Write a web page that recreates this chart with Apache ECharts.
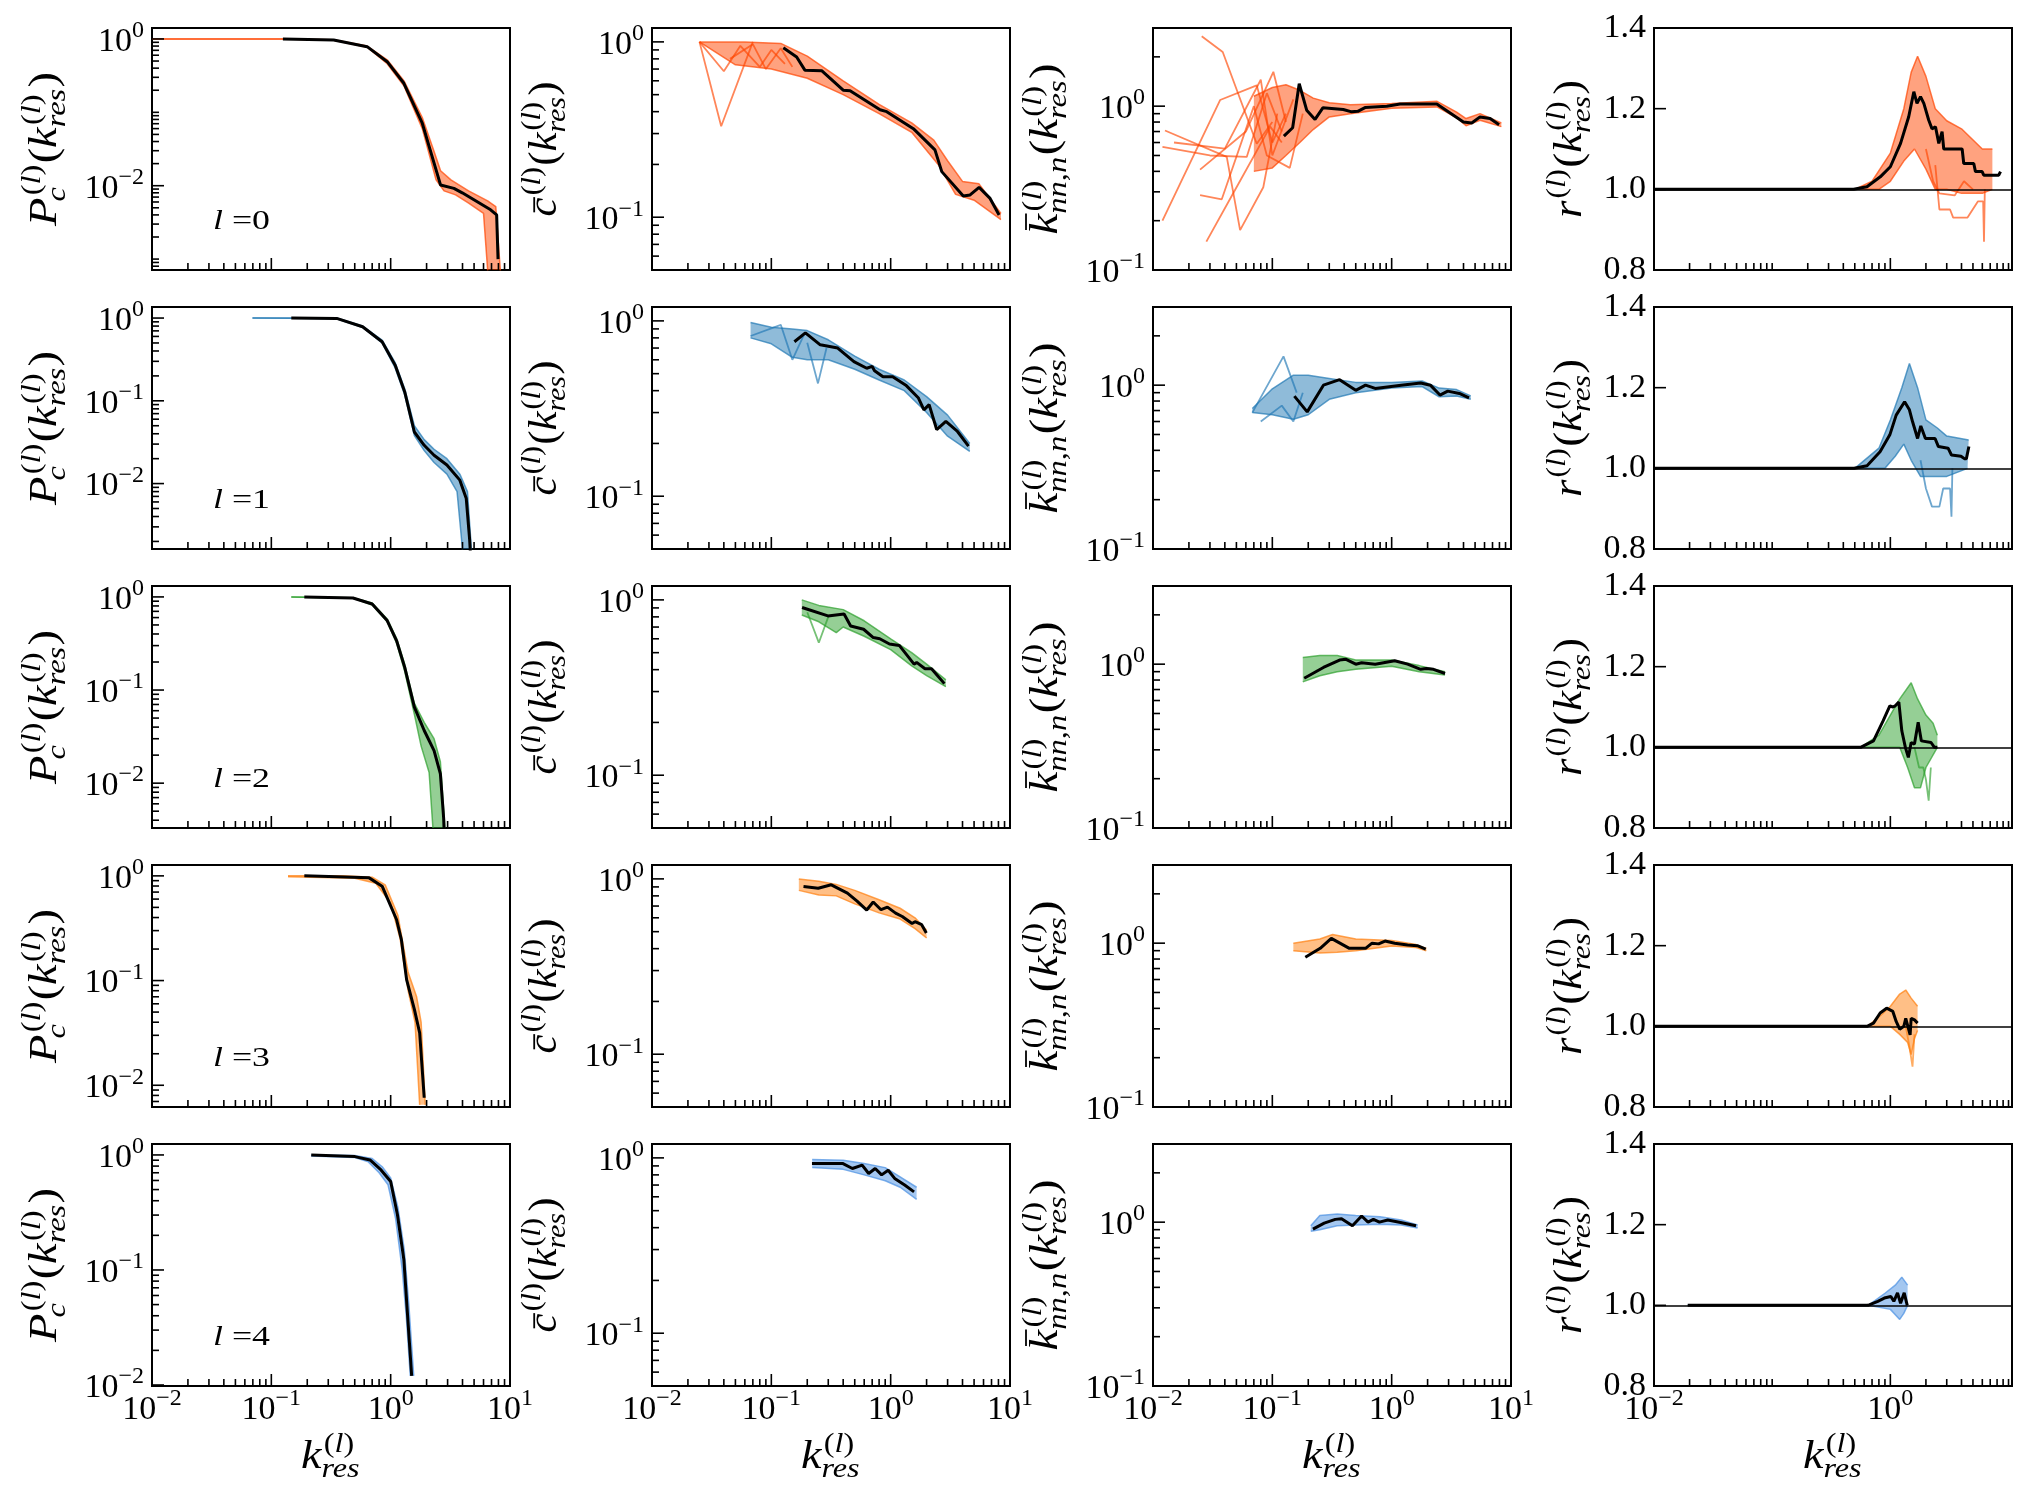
<!DOCTYPE html>
<html>
<head>
<meta charset="utf-8">
<title>k_res by layer</title>
<script src="https://cdn.jsdelivr.net/npm/echarts@6.0.0/dist/echarts.min.js"></script>
<style>
  html, body { margin: 0; padding: 0; background: #fff; }
  #chart { width: 2027px; height: 1500px; }
</style>
</head>
<body>
<div id="chart"></div>
<script>
var FONT = '"Liberation Serif", "Times New Roman", serif';
var rowColors = ['#ff4500', '#1f77b4', '#2ca02c', '#ff7f0e', '#4a90e2'];

/* ---- l = 0 ---- */
var pc0_mean = [[0.125,1],[0.333,0.97],[0.635,0.785],[0.935,0.49],[1.29,0.249],[1.84,0.071],[2.62,0.0102],[3.39,0.0092],[3.98,0.0080],[6.88,0.0047],[7.73,0.0040],[7.94,0.001]];
var pc0_hi = [[0.01,1],[0.125,1],[0.333,0.975],[0.635,0.8],[0.935,0.52],[1.29,0.27],[1.84,0.085],[2.3,0.03],[2.62,0.016],[3.2,0.012],[4.5,0.0085],[6.5,0.0062],[7.6,0.0052],[8.3,0.0007]];
var pc0_lo = [[0.01,1],[0.125,0.995],[0.333,0.96],[0.635,0.77],[0.935,0.46],[1.29,0.23],[1.84,0.06],[2.4,0.012],[2.8,0.0085],[3.5,0.0075],[4.5,0.0058],[6.0,0.0042],[6.5,0.0007]];

var cc0_mean = [[0.126,0.925],[0.163,0.82],[0.191,0.69],[0.264,0.685],[0.40,0.53],[0.457,0.527],[0.815,0.41],[0.927,0.40],[1.55,0.32],[2.35,0.242],[2.68,0.182],[4.06,0.132],[4.63,0.134],[5.51,0.148],[6.81,0.128],[8.1,0.103]];
var cc0_hi = [[0.025,1],[0.06,1],[0.12,0.98],[0.2,0.83],[0.4,0.6],[0.8,0.44],[1.5,0.345],[2.3,0.275],[3.0,0.21],[4.0,0.16],[5.5,0.155],[8.4,0.105]];
var cc0_lo = [[0.025,1],[0.05,0.74],[0.1,0.7],[0.2,0.62],[0.4,0.5],[0.8,0.39],[1.5,0.305],[2.5,0.2],[3.5,0.135],[5.0,0.125],[8.4,0.097]];
var cc0_s1 = [[0.025,1],[0.038,0.33],[0.07,1]];
var cc0_s2 = [[0.025,1],[0.04,0.68],[0.055,0.95],[0.08,0.72],[0.1,0.9],[0.13,0.75]];
var cc0_s3 = [[0.045,0.8],[0.07,0.97],[0.09,0.7],[0.12,0.92],[0.15,0.72]];

var kn0_mean = [[0.125,0.656],[0.148,0.738],[0.168,1.37],[0.194,0.945],[0.228,0.83],[0.265,0.977],[0.393,0.955],[0.462,0.923],[0.52,0.93],[0.598,0.98],[0.91,1.0],[1.175,1.03],[2.39,1.03],[3.99,0.80],[4.69,0.79],[5.5,0.86],[6.68,0.84],[7.95,0.77]];
var kn0_hi = [[0.07,1.15],[0.1,1.3],[0.13,1.35],[0.17,1.25],[0.22,1.12],[0.3,1.05],[0.45,1.02],[1.0,1.04],[2.4,1.07],[3.5,0.92],[4.2,0.84],[5.5,0.9],[8.3,0.79]];
var kn0_lo = [[0.07,0.4],[0.1,0.42],[0.13,0.5],[0.17,0.6],[0.22,0.72],[0.3,0.86],[0.45,0.9],[1.0,0.97],[2.4,0.99],[3.5,0.85],[4.2,0.76],[5.5,0.82],[8.3,0.75]];
var kn0_s1 = [[0.0256,2.67],[0.0384,2.14],[0.074,0.59],[0.1,0.8]];
var kn0_s2 = [[0.012,0.2],[0.0365,1.09],[0.074,1.34],[0.1,0.6],[0.13,0.9]];
var kn0_s3 = [[0.012,0.565],[0.03,0.5],[0.061,0.49],[0.09,1.2],[0.12,0.7]];
var kn0_s4 = [[0.0126,0.71],[0.0415,0.49],[0.0537,0.175],[0.084,0.32],[0.11,0.9]];
var kn0_s5 = [[0.0248,0.41],[0.06,0.7],[0.102,1.62],[0.13,0.8]];
var kn0_s6 = [[0.028,0.149],[0.047,0.294],[0.096,0.75],[0.12,0.6]];
var kn0_s7 = [[0.0248,0.286],[0.0377,0.27],[0.07,1.0],[0.09,0.5],[0.14,0.42],[0.18,0.9]];
var kn0_s8 = [[0.015,0.6],[0.04,0.55],[0.08,1.45],[0.1,0.5],[0.15,1.1]];

var r0_mean = [[0.01,1],[0.489,1.0],[0.634,1.0066],[0.822,1.031],[1.0,1.056],[1.22,1.114],[1.43,1.18],[1.58,1.242],[1.68,1.213],[1.80,1.23],[1.92,1.213],[2.11,1.172],[2.25,1.15],[2.41,1.155],[2.57,1.114],[2.74,1.143],[2.83,1.10],[4.05,1.10],[4.18,1.064],[5.08,1.064],[5.25,1.044],[5.98,1.044],[6.17,1.035],[8.27,1.035],[8.55,1.044]];
var r0_hi = [[0.01,1],[0.5,1.0],[0.7,1.02],[1.0,1.09],[1.3,1.2],[1.5,1.29],[1.7,1.33],[2.0,1.28],[2.4,1.2],[3,1.17],[4,1.15],[6,1.1],[7.3,1.1]];
var r0_lo = [[0.01,1],[0.8,1.0],[1.0,1.02],[1.3,1.07],[1.6,1.1],[2.0,1.05],[2.4,1.0],[3,1.0],[4,0.99],[6,0.99],[7.3,1.0]];
var r0_s1 = [[2.4,1.06],[2.6,0.95],[3.2,0.95],[3.4,0.93],[4.5,0.93],[5.5,0.97],[6.1,0.97],[6.2,0.87],[6.3,1.0]];
var r0_s2 = [[2.0,1.1],[2.3,1.02],[2.6,0.99],[3.5,0.985],[4.2,1.02],[5,1.0]];

/* ---- l = 1 ---- */
var pc1_mean = [[0.147,1],[0.353,0.99],[0.582,0.785],[0.848,0.518],[1.09,0.27],[1.31,0.129],[1.58,0.042],[1.91,0.029],[2.31,0.022],[2.96,0.0168],[3.8,0.011],[4.3,0.0066],[4.59,0.0021],[4.65,0.0015]];
var pc1_hi = [[0.0695,1],[0.147,1],[0.353,1.0],[0.582,0.8],[0.848,0.54],[1.09,0.29],[1.31,0.14],[1.58,0.05],[1.91,0.034],[2.31,0.026],[2.96,0.02],[3.8,0.013],[4.4,0.008],[4.75,0.0016]];
var pc1_lo = [[0.0695,1],[0.147,0.995],[0.353,0.98],[0.582,0.77],[0.848,0.5],[1.09,0.25],[1.31,0.118],[1.58,0.038],[1.91,0.025],[2.31,0.018],[2.96,0.013],[3.6,0.008],[4.0,0.0016]];

var cc1_mean = [[0.156,0.76],[0.193,0.855],[0.257,0.73],[0.36,0.70],[0.492,0.586],[0.63,0.537],[0.70,0.55],[0.733,0.52],[0.863,0.48],[1.04,0.48],[1.34,0.43],[1.71,0.363],[1.9,0.311],[2.1,0.333],[2.43,0.24],[2.9,0.267],[3.63,0.234],[4.49,0.193]];
var cc1_hi = [[0.067,0.98],[0.1,0.92],[0.15,0.9],[0.2,0.88],[0.3,0.78],[0.5,0.63],[0.8,0.53],[1.3,0.46],[2,0.37],[3,0.29],[4.6,0.2]];
var cc1_lo = [[0.067,0.8],[0.1,0.74],[0.15,0.62],[0.2,0.6],[0.3,0.6],[0.5,0.53],[0.8,0.46],[1.3,0.4],[2,0.3],[3,0.22],[4.6,0.18]];
var cc1_s1 = [[0.2,0.75],[0.246,0.44],[0.29,0.7]];
var cc1_s2 = [[0.067,0.82],[0.12,0.95],[0.15,0.6],[0.19,0.85]];

var kn1_mean = [[0.153,0.857],[0.196,0.687],[0.268,1.0],[0.366,1.08],[0.5,0.93],[0.604,1.0],[0.728,0.955],[1.2,1.0],[1.75,1.03],[2.11,1.0],[2.54,0.87],[2.95,0.92],[3.69,0.89],[4.45,0.837]];
var kn1_hi = [[0.068,0.72],[0.1,0.95],[0.15,1.15],[0.2,1.15],[0.3,1.1],[0.5,1.04],[1,1.04],[1.8,1.06],[2.5,0.96],[3.5,0.94],[4.6,0.86]];
var kn1_lo = [[0.068,0.68],[0.1,0.66],[0.15,0.62],[0.2,0.66],[0.3,0.82],[0.5,0.9],[1,0.96],[1.8,0.98],[2.5,0.85],[3.5,0.86],[4.6,0.82]];
var kn1_s1 = [[0.068,0.68],[0.124,1.5],[0.16,0.9]];
var kn1_s2 = [[0.08,0.6],[0.12,0.75],[0.15,0.6],[0.18,0.9]];

var r1_mean = [[0.01,1],[0.494,1.0],[0.635,1.0066],[0.818,1.041],[0.99,1.083],[1.12,1.132],[1.32,1.165],[1.45,1.145],[1.54,1.116],[1.70,1.074],[1.81,1.105],[1.98,1.074],[2.39,1.074],[2.55,1.054],[3.08,1.05],[3.29,1.033],[3.96,1.03],[4.23,1.024],[4.4,1.024],[4.62,1.054]];
var r1_hi = [[0.01,1],[0.5,1.0],[0.8,1.05],[1.0,1.12],[1.25,1.2],[1.45,1.26],[1.7,1.2],[2.0,1.12],[2.5,1.1],[3,1.08],[4.6,1.07]];
var r1_lo = [[0.01,1],[0.9,1.0],[1.1,1.03],[1.3,1.06],[1.5,1.02],[1.8,0.98],[2.3,0.98],[3,0.98],[4.5,1.0]];
var r1_s1 = [[1.8,1.02],[2.0,0.95],[2.25,0.905],[2.6,0.905],[2.8,0.95],[3.2,0.95],[3.29,0.88],[3.35,1.0]];

/* ---- l = 2 ---- */
var pc2_mean = [[0.189,1],[0.483,0.975],[0.70,0.84],[0.935,0.557],[1.12,0.34],[1.31,0.176],[1.58,0.0656],[1.91,0.0368],[2.31,0.0224],[2.61,0.0126],[2.78,0.0042],[2.8,0.0033]];
var pc2_hi = [[0.147,1],[0.483,0.98],[0.70,0.86],[0.935,0.58],[1.12,0.36],[1.31,0.19],[1.58,0.072],[1.91,0.045],[2.31,0.03],[2.61,0.017],[2.85,0.0033]];
var pc2_lo = [[0.147,1],[0.483,0.97],[0.70,0.82],[0.935,0.54],[1.12,0.32],[1.31,0.16],[1.58,0.055],[1.8,0.025],[2.1,0.013],[2.26,0.0033]];

var cc2_mean = [[0.181,0.905],[0.298,0.81],[0.407,0.83],[0.462,0.71],[0.593,0.68],[0.715,0.61],[0.81,0.6],[0.977,0.56],[1.18,0.55],[1.57,0.43],[1.65,0.44],[1.94,0.405],[2.2,0.405],[2.82,0.333]];
var cc2_hi = [[0.18,1.0],[0.25,0.93],[0.4,0.88],[0.6,0.76],[1,0.6],[1.5,0.5],[2,0.43],[2.9,0.35]];
var cc2_lo = [[0.18,0.82],[0.25,0.75],[0.35,0.65],[0.4,0.7],[0.6,0.62],[1,0.52],[1.5,0.42],[2,0.37],[2.9,0.32]];
var cc2_s1 = [[0.2,0.85],[0.25,0.57],[0.3,0.8]];

var kn2_mean = [[0.185,0.82],[0.268,0.955],[0.366,1.06],[0.415,1.07],[0.5,1.0],[0.56,1.02],[0.728,1.0],[1.06,1.05],[1.36,1.0],[1.75,0.93],[1.95,0.94],[2.24,0.93],[2.8,0.877]];
var kn2_hi = [[0.18,1.1],[0.25,1.13],[0.35,1.13],[0.5,1.06],[1,1.06],[1.7,0.98],[2.8,0.9]];
var kn2_lo = [[0.18,0.78],[0.25,0.85],[0.35,0.9],[0.5,0.93],[1,0.97],[1.7,0.9],[2.8,0.86]];

var r2_mean = [[0.01,1],[0.56,1.0],[0.72,1.016],[0.87,1.066],[0.99,1.103],[1.05,1.1],[1.1,1.103],[1.18,1.112],[1.25,1.041],[1.34,1.0],[1.42,0.975],[1.5,1.012],[1.6,1.008],[1.72,1.062],[1.83,1.016],[1.9,1.012],[2.21,1.012],[2.36,1.0],[2.5,1.0]];
var r2_hi = [[0.01,1],[0.56,1.0],[0.8,1.03],[1.0,1.08],[1.2,1.12],[1.5,1.16],[1.7,1.12],[2.0,1.08],[2.3,1.06],[2.5,1.03]];
var r2_lo = [[0.01,1],[1.0,1.0],[1.2,1.0],[1.4,0.95],[1.6,0.9],[1.8,0.9],[2.0,0.95],[2.5,1.0]];
var r2_s1 = [[1.6,1.0],[1.75,0.95],[1.9,0.95],[2.0,0.92],[2.11,0.868],[2.2,0.95]];

/* ---- l = 3 ---- */
var pc3_mean = [[0.189,1],[0.66,0.957],[0.848,0.797],[1.12,0.383],[1.23,0.246],[1.36,0.102],[1.58,0.053],[1.75,0.0316],[1.91,0.0076]];
var pc3_hi = [[0.138,1],[0.4,1.0],[0.7,0.97],[0.9,0.82],[1.15,0.42],[1.4,0.12],[1.65,0.07],[1.8,0.04],[1.95,0.0065]];
var pc3_lo = [[0.138,0.98],[0.5,0.95],[0.75,0.85],[1.0,0.55],[1.2,0.25],[1.4,0.08],[1.6,0.04],[1.75,0.0065]];

var cc3_mean = [[0.186,0.905],[0.247,0.885],[0.318,0.925],[0.434,0.83],[0.523,0.747],[0.63,0.664],[0.714,0.738],[0.83,0.667],[0.94,0.69],[1.1,0.638],[1.25,0.61],[1.51,0.556],[1.6,0.57],[1.82,0.548],[1.99,0.492]];
var cc3_hi = [[0.17,1.0],[0.25,0.97],[0.35,0.93],[0.5,0.86],[0.8,0.76],[1.2,0.68],[1.6,0.6],[2.0,0.51]];
var cc3_lo = [[0.17,0.86],[0.25,0.81],[0.35,0.8],[0.5,0.72],[0.8,0.64],[1.2,0.59],[1.6,0.52],[2.0,0.46]];

var kn3_mean = [[0.189,0.82],[0.252,0.93],[0.312,1.07],[0.442,0.93],[0.604,0.93],[0.685,1.0],[0.777,0.99],[0.88,1.03],[1.06,1.0],[1.36,0.976],[1.64,0.965],[1.93,0.92]];
var kn3_hi = [[0.15,1.0],[0.25,1.06],[0.32,1.13],[0.5,1.06],[1,1.04],[1.6,0.98],[1.95,0.93]];
var kn3_lo = [[0.15,0.9],[0.25,0.87],[0.35,0.88],[0.5,0.9],[1,0.96],[1.6,0.94],[1.95,0.9]];

var r3_mean = [[0.01,1],[0.635,1.0],[0.72,1.008],[0.82,1.033],[0.93,1.045],[1.05,1.037],[1.12,1.012],[1.2,0.993],[1.3,1.0],[1.35,1.02],[1.47,0.979],[1.5,1.02],[1.6,1.016],[1.7,1.008]];
var r3_hi = [[0.01,1],[0.64,1.0],[0.85,1.03],[1.0,1.05],[1.2,1.08],[1.35,1.09],[1.5,1.07],[1.7,1.05]];
var r3_lo = [[0.01,1],[1.0,1.0],[1.2,0.98],[1.4,0.96],[1.5,0.93],[1.6,0.97],[1.7,0.99]];
var r3_s1 = [[1.35,1.0],[1.45,0.95],[1.54,0.9],[1.6,0.98]];

/* ---- l = 4 ---- */
var pc4_mean = [[0.216,1],[0.502,0.967],[0.671,0.905],[0.83,0.741],[1.0,0.587],[1.14,0.302],[1.29,0.123],[1.37,0.048],[1.5,0.012]];
var pc4_hi = [[0.216,1.0],[0.5,0.99],[0.7,0.93],[0.85,0.79],[1.0,0.63],[1.15,0.35],[1.3,0.15],[1.42,0.05],[1.56,0.012]];
var pc4_lo = [[0.216,0.98],[0.5,0.95],[0.65,0.87],[0.8,0.7],[0.95,0.55],[1.1,0.28],[1.25,0.1],[1.35,0.04],[1.46,0.012]];

var cc4_mean = [[0.219,0.93],[0.395,0.93],[0.478,0.87],[0.577,0.91],[0.654,0.815],[0.742,0.87],[0.84,0.8],[0.953,0.85],[1.08,0.764],[1.31,0.7],[1.57,0.64]];
var cc4_hi = [[0.22,0.98],[0.4,0.97],[0.6,0.93],[0.9,0.88],[1.2,0.78],[1.65,0.68]];
var cc4_lo = [[0.22,0.88],[0.4,0.86],[0.6,0.8],[0.9,0.74],[1.2,0.68],[1.65,0.58]];

var kn4_mean = [[0.219,0.906],[0.272,0.986],[0.337,1.04],[0.38,1.05],[0.469,0.95],[0.56,1.09],[0.634,1.0],[0.703,1.04],[0.79,1.0],[0.927,1.03],[1.16,1.0],[1.6,0.95]];
var kn4_hi = [[0.21,0.95],[0.25,1.1],[0.35,1.12],[0.5,1.1],[0.8,1.08],[1.2,1.03],[1.65,0.96]];
var kn4_lo = [[0.21,0.88],[0.25,0.9],[0.35,0.95],[0.5,0.96],[0.8,0.97],[1.2,0.96],[1.65,0.92]];

var r4_mean = [[0.0193,1],[0.647,1.0],[0.783,1.01],[0.889,1.018],[1.01,1.022],[1.07,1.01],[1.15,1.031],[1.22,1.005],[1.31,1.031],[1.39,1.0]];
var r4_hi = [[0.0193,1],[0.65,1.0],[0.9,1.03],[1.1,1.05],[1.25,1.07],[1.4,1.05]];
var r4_lo = [[0.0193,1],[0.65,1.0],[1.0,0.99],[1.2,0.965],[1.3,0.98],[1.4,1.0]];

/* axis ranges and tick labels */
var xRange = [0.01, 10], rxRange = [0.01, 10.7];
var pcYMin = [7.1e-4, 1.62e-3, 3.3e-3, 6.2e-3, 9.8e-3];
var pcYMax = [1.41, 1.36, 1.31, 1.27, 1.245];
var ccRange = [0.05, 1.2], knRange = [0.1, 3.0], rRange = [0.8, 1.4];
var xLabels = [0.01, 0.1, 1, 10], xLabelsR = [0.01, 1];
var pcYLabels = [[1, 0.01], [1, 0.1, 0.01], [1, 0.1, 0.01], [1, 0.1, 0.01], [1, 0.1, 0.01]];
var ccYLabels = [1, 0.1], knYLabels = [1, 0.1];
var rYLabels = [0.8, 1.0, 1.2, 1.4];

var panels = [
  [{mean: pc0_mean, hi: pc0_hi, lo: pc0_lo, strays: []},
   {mean: cc0_mean, hi: cc0_hi, lo: cc0_lo, strays: [cc0_s1, cc0_s2, cc0_s3]},
   {mean: kn0_mean, hi: kn0_hi, lo: kn0_lo, strays: [kn0_s1, kn0_s2, kn0_s3, kn0_s4, kn0_s5, kn0_s6, kn0_s7, kn0_s8]},
   {mean: r0_mean, hi: r0_hi, lo: r0_lo, strays: [r0_s1, r0_s2]}],
  [{mean: pc1_mean, hi: pc1_hi, lo: pc1_lo, strays: []},
   {mean: cc1_mean, hi: cc1_hi, lo: cc1_lo, strays: [cc1_s1, cc1_s2]},
   {mean: kn1_mean, hi: kn1_hi, lo: kn1_lo, strays: [kn1_s1, kn1_s2]},
   {mean: r1_mean, hi: r1_hi, lo: r1_lo, strays: [r1_s1]}],
  [{mean: pc2_mean, hi: pc2_hi, lo: pc2_lo, strays: []},
   {mean: cc2_mean, hi: cc2_hi, lo: cc2_lo, strays: [cc2_s1]},
   {mean: kn2_mean, hi: kn2_hi, lo: kn2_lo, strays: []},
   {mean: r2_mean, hi: r2_hi, lo: r2_lo, strays: [r2_s1]}],
  [{mean: pc3_mean, hi: pc3_hi, lo: pc3_lo, strays: []},
   {mean: cc3_mean, hi: cc3_hi, lo: cc3_lo, strays: []},
   {mean: kn3_mean, hi: kn3_hi, lo: kn3_lo, strays: []},
   {mean: r3_mean, hi: r3_hi, lo: r3_lo, strays: [r3_s1]}],
  [{mean: pc4_mean, hi: pc4_hi, lo: pc4_lo, strays: []},
   {mean: cc4_mean, hi: cc4_hi, lo: cc4_lo, strays: []},
   {mean: kn4_mean, hi: kn4_hi, lo: kn4_lo, strays: []},
   {mean: r4_mean, hi: r4_hi, lo: r4_lo, strays: []}]
];

/* layout */
var gridLeft = [152, 652, 1153, 1654];
var gridTop = [28, 307, 586, 865, 1144];
var gridW = 358, gridH = 242;
var MAJOR = 12, MINOR = 7;

/* text measuring for the math labels */
var mctx = document.createElement('canvas').getContext('2d');
function textWidth(str, font) { mctx.font = font; return mctx.measureText(str).width; }

function runs(str) {
  var out = [], cur = null;
  for (var i = 0; i < str.length; i++) {
    var ch = str[i], it = /[a-z]/i.test(ch);
    if (cur && cur.it === it) cur.t += ch; else { cur = {t: ch, it: it}; out.push(cur); }
  }
  return out;
}

// lay out a little TeX-like label, baseline at y=0, centred on x=0
function mathGroup(tokens, S, targetLen) {
  var s = Math.round(S * 0.7), x = 0, kids = [];
  function put(str, size, base, x0) {
    var xx = x0;
    runs(str).forEach(function (rn) {
      var f = (rn.it ? 'italic ' : '') + size + 'px ' + FONT;
      kids.push({type: 'text', x: xx, y: base - 0.34 * size, silent: true,
        style: {text: rn.t, font: f, fill: '#000', align: 'left', verticalAlign: 'middle'}});
      xx += textWidth(rn.t, f);
    });
    return xx - x0;
  }
  tokens.forEach(function (tk) {
    if (tk.t != null) {
      var w = put(tk.t, S, 0, x);
      if (tk.bar) {
        kids.push({type: 'line', silent: true,
          shape: {x1: x + 0.22 * w, y1: -tk.bar * S, x2: x + 1.02 * w, y2: -tk.bar * S},
          style: {stroke: '#000', lineWidth: 1.8}});
      }
      x += w;
    } else {
      var pad = 0.05 * S, tuck = (tk.tuck || 0) * S;
      var w1 = tk.sup ? put(tk.sup, s, -0.42 * S, x + pad) + pad : 0;
      var w2 = tk.sub ? put(tk.sub, s, 0.2 * S, x - tuck) - tuck : 0;
      x += Math.max(w1, w2) + 0.03 * S;
    }
  });
  return {type: 'group', scaleX: targetLen ? targetLen / x : 1,
    children: [{type: 'group', x: -x / 2, children: kids}]};
}

var yLabelTokens = [
  [{t: 'P'}, {sup: '(l)', sub: 'c', tuck: 0.08}, {t: '('}, {t: 'k'}, {sup: '(l)', sub: 'res'}, {t: ')'}],
  [{t: 'c', bar: 0.62}, {sup: '(l)'}, {t: '('}, {t: 'k'}, {sup: '(l)', sub: 'res'}, {t: ')'}],
  [{t: 'k', bar: 0.85}, {sup: '(l)', sub: 'nn,n'}, {t: '('}, {t: 'k'}, {sup: '(l)', sub: 'res'}, {t: ')'}],
  [{t: 'r'}, {sup: '(l)'}, {t: '('}, {t: 'k'}, {sup: '(l)', sub: 'res'}, {t: ')'}]
];
var yLabelLen = [154, 135, 171, 138];
var yLabelGap = [93, 93, 93, 70];
var xLabelTokens = [{t: 'k'}, {sup: '(l)', sub: 'res'}];

/* ticks */
function tickSet(lo, hi, majors) {
  var minors = [];
  for (var k = -4; k <= 1; k++) {
    for (var m = 1; m <= 9; m++) {
      var v = +(m * Math.pow(10, k)).toPrecision(6);
      var isMajor = majors.some(function (q) { return Math.abs(q - v) < 1e-9; });
      if (!isMajor && v > lo * 1.0001 && v < hi / 1.0001) minors.push(v);
    }
  }
  return {major: majors, minor: minors};
}

function powLabel(list) {
  return function (v) {
    for (var i = 0; i < list.length; i++) {
      if (Math.abs(Math.log10(v) - Math.log10(list[i])) < 1e-4) {
        var e = Math.round(Math.log10(list[i]));
        return '{b|10}{s|' + (e < 0 ? '\u2212' + (-e) : e) + '}';
      }
    }
    return '';
  };
}
var powRich = {
  b: {fontFamily: FONT, fontSize: 34, lineHeight: 40, verticalAlign: 'bottom', color: '#000'},
  s: {fontFamily: FONT, fontSize: 24, lineHeight: 23, verticalAlign: 'top', color: '#000'}
};

function lineS(gi, data, color, width, opacity, z) {
  return {type: 'line', xAxisIndex: gi, yAxisIndex: gi, data: data, symbol: 'none', silent: true,
    z: z, lineStyle: {color: color, width: width, opacity: opacity}};
}

function bandS(gi, hi, lo, color) {
  return {type: 'custom', xAxisIndex: gi, yAxisIndex: gi, silent: true, clip: true, z: 2,
    data: [hi[0]],
    renderItem: function (params, api) {
      var pts = hi.map(function (p) { return api.coord(p); })
        .concat(lo.slice().reverse().map(function (p) { return api.coord(p); }));
      return {type: 'polygon', shape: {points: pts}, style: {fill: color, opacity: 0.5}};
    }};
}

function tickS(gi, xt, yt, xRef, yRef) {
  var data = [];
  xt.major.forEach(function (v) { data.push([v, 1, MAJOR]); });
  xt.minor.forEach(function (v) { data.push([v, 1, MINOR]); });
  yt.major.forEach(function (v) { data.push([v, 2, MAJOR]); });
  yt.minor.forEach(function (v) { data.push([v, 2, MINOR]); });
  return {type: 'custom', xAxisIndex: gi, yAxisIndex: gi, silent: true, clip: false, z: 6,
    data: data, encode: {x: 0, y: 0},
    renderItem: function (params, api) {
      var cs = params.coordSys;
      var v = api.value(0), kind = api.value(1), len = api.value(2);
      if (kind === 1) {
        var px = api.coord([v, yRef])[0], yb = cs.y + cs.height;
        return {type: 'line', shape: {x1: px, y1: yb, x2: px, y2: yb - len}, style: {stroke: '#000', lineWidth: 1.6}};
      }
      var py = api.coord([xRef, v])[1];
      return {type: 'line', shape: {x1: cs.x, y1: py, x2: cs.x + len, y2: py}, style: {stroke: '#000', lineWidth: 1.6}};
    }};
}

var grids = [], xAxes = [], yAxes = [], series = [], graphics = [];
for (var r = 0; r < 5; r++) {
  for (var c = 0; c < 4; c++) {
    var gi = r * 4 + c;
    var isR = c === 3;
    var xr = isR ? rxRange : xRange;
    var yr = c === 0 ? [pcYMin[r], pcYMax[r]] : c === 1 ? ccRange : c === 2 ? knRange : rRange;
    var yl = c === 0 ? pcYLabels[r] : c === 1 ? ccYLabels : knYLabels;

    grids.push({left: gridLeft[c], top: gridTop[r], width: gridW, height: gridH,
      show: true, borderColor: '#000', borderWidth: 2, backgroundColor: 'transparent'});

    xAxes.push({type: 'log', logBase: 10, gridIndex: gi, min: xr[0], max: xr[1],
      axisLine: {show: false}, axisTick: {show: false}, splitLine: {show: false},
      axisLabel: {show: r === 4, formatter: powLabel(isR ? xLabelsR : xLabels), rich: powRich, margin: 1}});

    if (isR) {
      yAxes.push({type: 'value', gridIndex: gi, min: rRange[0], max: rRange[1], interval: 0.2,
        axisLine: {show: false}, axisTick: {show: false}, splitLine: {show: false},
        axisLabel: {formatter: function (v) { return v.toFixed(1); }, fontFamily: FONT, fontSize: 34, color: '#000', margin: 8}});
    } else {
      yAxes.push({type: 'log', logBase: 10, gridIndex: gi, min: yr[0], max: yr[1],
        axisLine: {show: false}, axisTick: {show: false}, splitLine: {show: false},
        axisLabel: {formatter: powLabel(yl), rich: powRich, margin: 8}});
    }

    var p = panels[r][c], col = rowColors[r];
    p.strays.forEach(function (s) { series.push(lineS(gi, s, col, 1.8, 0.65, 2)); });
    series.push(bandS(gi, p.hi, p.lo, col));
    series.push(lineS(gi, p.hi, col, 1.5, 0.7, 3));
    series.push(lineS(gi, p.lo, col, 1.5, 0.7, 3));
    var m = lineS(gi, p.mean, '#000', 3, 1, 5);
    if (isR) {
      m.markLine = {silent: true, symbol: ['none', 'none'], label: {show: false}, animation: false,
        lineStyle: {color: '#000', width: 1.6, type: 'solid'}, data: [{yAxis: 1}]};
    }
    series.push(m);

    var xt = isR ? tickSet(xr[0], xr[1], xLabelsR) : tickSet(xr[0], xr[1], xLabels);
    var yt = isR ? {major: rYLabels, minor: []} : tickSet(yr[0], yr[1], yl);
    series.push(tickS(gi, xt, yt, xr[0], yr[0]));

    var g = mathGroup(yLabelTokens[c], 40, yLabelLen[c]);
    g.x = gridLeft[c] - yLabelGap[c];
    g.y = gridTop[r] + gridH / 2;
    g.rotation = Math.PI / 2;
    graphics.push(g);

    if (r === 4) {
      var gx = mathGroup(xLabelTokens, 40, 60);
      gx.x = gridLeft[c] + gridW / 2;
      gx.y = 1471;
      graphics.push(gx);
    }
  }
  var ga = mathGroup([{t: 'l'}, {t: ' =' + r}], 28, 57);
  ga.x = gridLeft[0] + 61 + 28.5;
  ga.y = gridTop[r] + 203;
  graphics.push(ga);
}

var chart = echarts.init(document.getElementById('chart'), null, {width: 2027, height: 1500});
chart.setOption({
  animation: false,
  backgroundColor: '#fff',
  textStyle: {fontFamily: FONT},
  grid: grids,
  xAxis: xAxes,
  yAxis: yAxes,
  series: series,
  graphic: {elements: graphics}
});
</script>
</body>
</html>
